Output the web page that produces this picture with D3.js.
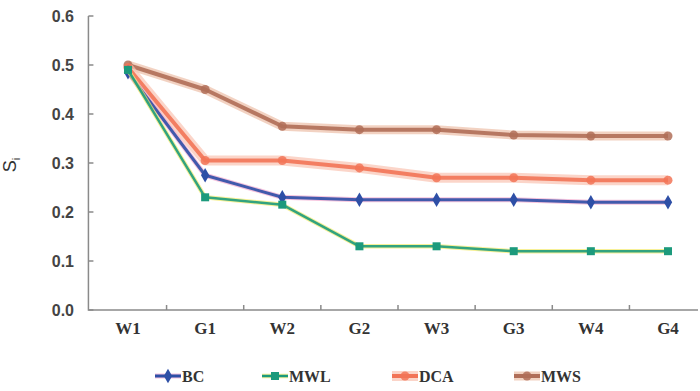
<!DOCTYPE html>
<meta charset="utf-8">
<script src="https://d3js.org/d3.v7.min.js"></script>
<style>
  body { margin: 0; background: #fff; }
</style>
<body>
<svg width="700" height="391"></svg>
<script>
    let categories = ['W1', 'G1', 'W2', 'G2', 'W3', 'G3', 'W4', 'G4']
    let yTicks = [0.0, 0.1, 0.2, 0.3, 0.4, 0.5, 0.6]

    let bc  = [0.485, 0.275, 0.230, 0.225, 0.225, 0.225, 0.220, 0.220]
    let mwl = [0.490, 0.230, 0.215, 0.130, 0.130, 0.120, 0.120, 0.120]
    let dca = [0.495, 0.305, 0.305, 0.290, 0.270, 0.270, 0.265, 0.265]
    let mws = [0.500, 0.450, 0.375, 0.368, 0.368, 0.357, 0.355, 0.355]

    let series = [
        {name: 'MWS', values: mws, color: '#b06e58', halo: '#ecbfa8', w: 4, hw: 9, shape: 'circle', r: 4.5},
        {name: 'DCA', values: dca, color: '#f27457', halo: '#fac3b2', w: 4, hw: 10, shape: 'circle', r: 4.5},
        {name: 'BC',  values: bc,  color: '#2e4fa6', halo: '#f2a9cf', w: 3, hw: 5, shape: 'diamond', r: 4.5},
        {name: 'MWL', values: mwl, color: '#1c9a7c', halo: '#f3ea6a', w: 2.5, hw: 4.5, shape: 'square', r: 4}
    ]
    let legendOrder = ['BC', 'MWL', 'DCA', 'MWS']

    let svg = d3.select('svg')
    let x = d3.scalePoint().domain(categories).range([128, 668])
    let y = d3.scaleLinear().domain([0, 0.6]).range([310, 16])
    let step = x.step()

    // axes
    let axisG = svg.append('g').attr('stroke', '#8a8a8a').attr('stroke-width', 1.5).attr('fill', 'none')
    axisG.append('path').attr('d', `M${x('W1') - step / 2 - 1},${y(0.6)}V${y(0)}H698`)
    axisG.selectAll('.yt').data(yTicks).enter().append('line')
        .attr('x1', x('W1') - step / 2 - 1).attr('x2', x('W1') - step / 2 + 4)
        .attr('y1', d => y(d)).attr('y2', d => y(d))
    axisG.selectAll('.xt').data(categories.slice(1)).enter().append('line')
        .attr('x1', d => x(d) - step / 2).attr('x2', d => x(d) - step / 2)
        .attr('y1', y(0)).attr('y2', y(0) - 5)

    svg.selectAll('.ylab').data(yTicks).enter().append('text')
        .attr('x', 74).attr('y', d => y(d) + 6)
        .attr('text-anchor', 'end')
        .style('font', 'bold 16px "Liberation Sans", Arial, sans-serif')
        .attr('fill', '#444')
        .text(d => d.toFixed(1))

    svg.selectAll('.xlab').data(categories).enter().append('text')
        .attr('x', d => x(d)).attr('y', 334)
        .attr('text-anchor', 'middle')
        .style('font', 'bold 17px "Liberation Serif", "Times New Roman", serif')
        .attr('fill', '#333')
        .text(d => d)

    let yl = svg.append('text')
        .attr('transform', 'translate(16,165) rotate(-90)')
        .attr('text-anchor', 'middle')
        .style('font', '18px "Liberation Sans", Arial, sans-serif')
        .attr('fill', '#333')
    yl.append('tspan').text('S')
    yl.append('tspan').attr('font-size', 11).attr('dy', 4).text('i')

    let line = d3.line().x((d, i) => x(categories[i])).y(d => y(d))

    function marker(g, s, cx, cy) {
        if (s.shape === 'diamond') {
            g.append('path').attr('d', d3.symbol(d3.symbolDiamond, 60)()).attr('transform', `translate(${cx},${cy})`).attr('fill', s.color)
        } else if (s.shape === 'square') {
            g.append('rect').attr('x', cx - s.r).attr('y', cy - s.r).attr('width', s.r * 2).attr('height', s.r * 2).attr('fill', s.color)
        } else {
            g.append('circle').attr('cx', cx).attr('cy', cy).attr('r', s.r).attr('fill', s.color).attr('opacity', 0.85)
        }
    }

    let plot = svg.append('g')
    series.forEach(s => {
        plot.append('path').datum(s.values).attr('d', line)
            .attr('fill', 'none').attr('stroke', s.halo).attr('stroke-width', s.hw).attr('opacity', 0.7)
            .attr('stroke-linejoin', 'round')
        plot.append('path').datum(s.values).attr('d', line)
            .attr('fill', 'none').attr('stroke', s.color).attr('stroke-width', s.w).attr('opacity', 0.9)
            .attr('stroke-linejoin', 'round')
        s.values.forEach((v, i) => marker(plot, s, x(categories[i]), y(v)))
    })

    // legend
    let legendX = [155, 262, 392, 514]
    legendOrder.forEach((name, i) => {
        let s = series.find(d => d.name === name)
        let g = svg.append('g')
        let lx = legendX[i], ly = 376
        g.append('line').attr('x1', lx).attr('x2', lx + 26).attr('y1', ly).attr('y2', ly)
            .attr('stroke', s.halo).attr('stroke-width', s.hw).attr('opacity', 0.7)
        g.append('line').attr('x1', lx).attr('x2', lx + 26).attr('y1', ly).attr('y2', ly)
            .attr('stroke', s.color).attr('stroke-width', s.w)
        marker(g, s, lx + 13, ly)
        g.append('text').attr('x', lx + 27).attr('y', ly + 6)
            .style('font', 'bold 16px "Liberation Serif", "Times New Roman", serif')
            .attr('fill', '#333')
            .text(name)
    })
</script>
</body>
